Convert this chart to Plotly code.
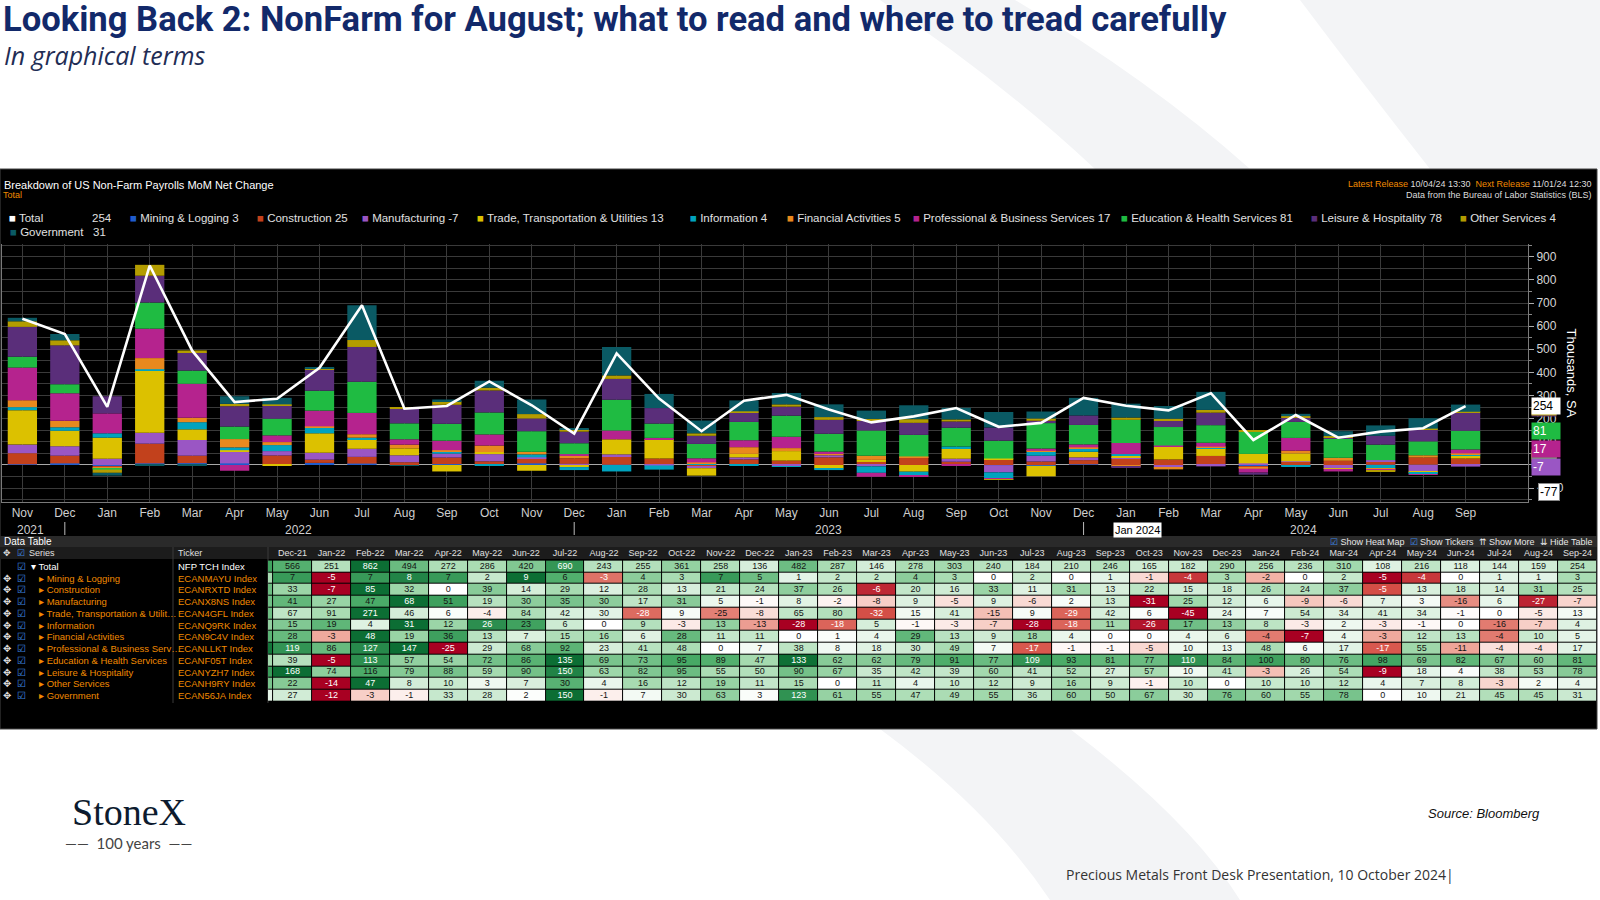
import plotly.graph_objects as go

# ---- data (thousands, MoM net change, SA) ----
months = ["Nov-21", "Dec-21", "Jan-22", "Feb-22", "Mar-22", "Apr-22", "May-22", "Jun-22", "Jul-22",
          "Aug-22", "Sep-22", "Oct-22", "Nov-22", "Dec-22", "Jan-23", "Feb-23", "Mar-23", "Apr-23",
          "May-23", "Jun-23", "Jul-23", "Aug-23", "Sep-23", "Oct-23", "Nov-23", "Dec-23", "Jan-24",
          "Feb-24", "Mar-24", "Apr-24", "May-24", "Jun-24", "Jul-24", "Aug-24", "Sep-24"]

total = [632, 566, 251, 862, 494, 272, 286, 420, 690, 243, 255, 361, 258, 136, 482, 287, 146, 278,
         303, 240, 184, 210, 246, 165, 182, 290, 256, 236, 310, 108, 216, 118, 144, 159, 254]
mining = [3, 7, -5, 7, 8, 7, 2, 9, 6, -3, 4, 3, 7, 5, 1, 2, 2, 4, 3, 0, 2, 0, 1, -1, -4, 3, -2, 0,
          2, -5, -4, 0, 1, 1, 3]
construction = [48, 33, -7, 85, 32, 0, 39, 14, 29, 12, 28, 13, 21, 24, 37, 26, -6, 20, 16, 33, 11,
                31, 13, 22, 15, 18, 26, 24, 37, -5, 13, 18, 14, 31, 25]
manufacturing = [37, 41, 27, 47, 68, 51, 19, 30, 35, 30, 17, 31, 5, -1, 8, -2, -8, 9, -5, 9, -6, 2,
                 13, -31, 25, 12, 6, -9, -6, 7, 3, -16, 6, -27, -7]
trade = [149, 67, 91, 271, 46, 6, -4, 84, 42, 30, -28, 9, -25, -8, 65, 80, -32, 15, 41, -15, 9, -29,
         42, 6, -45, 24, 7, 54, 34, 41, 34, -1, 0, -5, 13]
information = [13, 15, 19, 4, 31, 12, 26, 23, 6, 0, 9, -3, 13, -13, -28, -18, 5, -1, -3, -7, -28,
               -18, 11, -26, 17, 13, 8, -3, 2, -3, -1, 0, -16, -7, 4]
financial = [30, 28, -3, 48, 19, 36, 13, 7, 15, 16, 6, 28, 11, 11, 0, 1, 4, 29, 13, 9, 18, 4, 0, 0,
             4, 6, -4, -7, 4, -3, 12, 13, -4, 10, 5]
professional = [141, 119, 86, 127, 147, -25, 29, 68, 92, 23, 41, 48, 0, 7, 38, 8, 18, 30, 49, 7, -17,
                -1, -1, -5, 10, 13, 48, 6, 17, -17, 55, -11, -4, -4, 17]
education = [47, 39, -5, 113, 57, 54, 72, 86, 135, 69, 73, 95, 89, 47, 133, 62, 62, 79, 91, 77, 109,
             93, 81, 77, 110, 84, 100, 80, 76, 98, 69, 82, 67, 60, 81]
leisure = [129, 168, 74, 116, 79, 88, 59, 90, 150, 63, 82, 95, 55, 50, 90, 67, 35, 42, 39, 60, 41,
           52, 27, 57, 10, 41, -3, 26, 54, -9, 18, 4, 38, 53, 78]
other = [24, 22, -14, 47, 8, 10, 3, 7, 30, 4, 16, 12, 19, 11, 15, 0, 11, 4, 10, 12, 9, 16, 9, -1, 10,
         0, 10, 10, 12, 4, 7, 8, -3, 2, 4]
government = [15, 27, -12, -3, -1, 33, 28, 2, 150, -1, 7, 30, 63, 3, 123, 61, 55, 47, 49, 55, 36, 60,
              50, 67, 30, 76, 60, 55, 78, 0, 10, 21, 45, 45, 31]

sector_names = ["Mining & Logging", "Construction", "Manufacturing", "Trade, Transportation & Utilities",
                "Information", "Financial Activities", "Professional & Business Services",
                "Education & Health Services", "Leisure & Hospitality", "Other Services", "Government"]
table_names = ["Mining & Logging", "Construction", "Manufacturing", "Trade, Transportation & Utilit\u2026",
               "Information", "Financial Activities", "Professional & Business Serv\u2026",
               "Education & Health Services", "Leisure & Hospitality", "Other Services", "Government"]
tickers = ["NFP TCH Index", "ECANMAYU Index", "ECANRXTD Index", "ECANX8NS Index", "ECAN4GFL Index",
           "ECANQ9RK Index", "ECAN9C4V Index", "ECANLLKT Index", "ECANF05T Index", "ECANYZH7 Index",
           "ECANH9RY Index", "ECAN56JA Index"]
sector_colors = ["#1f5ccc", "#c2411c", "#9a56c4", "#dcc100", "#00a3be", "#e8891e", "#b5238e",
                 "#1fbb42", "#5a2e7a", "#b39c00", "#0a5a64"]
year_labels = ["2021", "2022", "2023", "2024"]
crosshair_value = -77
crosshair_date = "Jan 2024"

sectors = [mining, construction, manufacturing, trade, information, financial, professional,
           education, leisure, other, government]

W, H = 1600, 900


def px(x):
    return x / W


def py(y):
    return 1 - y / H


FONT = "Liberation Sans"
ORANGE = "#f08a00"
fig = go.Figure()

# stacked bars
for name, vals, col in zip(sector_names, sectors, sector_colors):
    fig.add_trace(go.Bar(x=months, y=vals, name=name, marker=dict(color=col, line=dict(width=0))))

fig.add_trace(go.Scatter(x=months, y=total, mode="lines", name="Total",
                         line=dict(color="white", width=2.6)))

# ---- heat map data table (row-wise scaling, red < 0 < green) ----
rows = [total] + sectors
row_keys = ["Total"] + sector_names
z = []
for r in rows:
    lo, hi = min(r), max(r)
    z.append([(v / hi if hi > 0 else 0) if v >= 0 else -v / lo for v in r])

heat_scale = [[0.0, "rgb(168,0,34)"], [0.15, "rgb(214,82,72)"], [0.3, "rgb(242,178,166)"],
              [0.5, "rgb(255,255,255)"], [0.675, "rgb(165,218,175)"], [0.85, "rgb(72,170,102)"],
              [1.0, "rgb(12,110,52)"]]

fig.add_trace(go.Heatmap(
    x=months, y=row_keys, z=z, colorscale=heat_scale, zmin=-1, zmax=1, showscale=False,
    xgap=1, ygap=1, xaxis="x2", yaxis="y2", hoverinfo="skip",
))

# cell values (the Nov-21 column is only a cut-off sliver, so no text there)
tx, ty, tt, tc = [], [], [], []
for key, r, zr in zip(row_keys, rows, z):
    for m, v, t in list(zip(months, r, zr))[1:]:
        tx.append(m)
        ty.append(key)
        tt.append(str(v))
        tc.append("white" if (t >= 0.8 or t <= -0.6) else "#141414")
fig.add_trace(go.Scatter(x=tx, y=ty, text=tt, mode="text", textposition="middle center",
                         textfont=dict(family=FONT, size=9, color=tc), xaxis="x2", yaxis="y2",
                         cliponaxis=True, hoverinfo="skip"))

# ---- layout ----
WM = "#f3f4f6"
shapes = [
    # faint logo watermark behind the slide
    dict(type="path", xref="paper", yref="paper", layer="below", fillcolor=WM, line=dict(width=0),
         path="M %f %f L %f %f Q %f %f %f %f L %f %f Q %f %f %f %f Z" % (
             px(880), py(0), px(1015), py(0), px(1150), py(80), px(1250), py(169), px(1095), py(169),
             px(1000), py(80), px(880), py(0))),
    dict(type="path", xref="paper", yref="paper", layer="below", fillcolor=WM, line=dict(width=0),
         path="M %f %f L %f %f L %f %f L %f %f Q %f %f %f %f Z" % (
             px(1300), py(0), px(1600), py(0), px(1600), py(169), px(1430), py(169),
             px(1360), py(80), px(1300), py(0))),
    dict(type="path", xref="paper", yref="paper", layer="below", fillcolor=WM, line=dict(width=0),
         path="M %f %f L %f %f Q %f %f %f %f L %f %f Q %f %f %f %f Z" % (
             px(880), py(729), px(1070), py(729), px(1190), py(820), px(1240), py(900), px(1050), py(900),
             px(990), py(810), px(880), py(729))),
    dict(type="rect", xref="paper", yref="paper", x0=0, x1=px(1597), y0=py(729), y1=py(169),
         fillcolor="black", line=dict(color="#444444", width=1), layer="below"),
    dict(type="rect", xref="paper", yref="paper", x0=0, x1=px(1597), y0=py(547), y1=py(536),
         fillcolor="#2a2a2a", line=dict(width=0), layer="below"),
    dict(type="rect", xref="paper", yref="paper", x0=0, x1=px(1597), y0=py(559), y1=py(547),
         fillcolor="#1c1c1c", line=dict(width=0), layer="below"),
]
for xline in [173, 268]:
    shapes.append(dict(type="line", xref="paper", yref="paper", x0=px(xline), x1=px(xline),
                       y0=py(703), y1=py(547), line=dict(color="#3a3a3a", width=1), layer="below"))
for sep in ["Dec-21", "Dec-22", "Dec-23"]:
    i = months.index(sep)
    shapes.append(dict(type="line", xref="x", yref="paper", x0=i, x1=i, y0=py(535), y1=py(522),
                       line=dict(color="#bbbbbb", width=1)))

ann = []
ann.append(dict(x=px(1), y=py(19), xref="paper", yref="paper", xanchor="left", yanchor="middle",
                showarrow=False, text="<b>Looking Back 2: NonFarm for August; what to read and where to tread carefully</b>",
                font=dict(family="Roboto", size=34.6, color="#12296a")))
ann.append(dict(x=px(2), y=py(55), xref="paper", yref="paper", xanchor="left", yanchor="middle",
                showarrow=False, text="<i>In graphical terms</i>",
                font=dict(family="Open Sans", size=25, color="#1f2d55")))

# panel header
ann.append(dict(x=px(2), y=py(185), xref="paper", yref="paper", xanchor="left", yanchor="middle",
                showarrow=False, text="Breakdown of US Non-Farm Payrolls MoM Net Change",
                font=dict(family=FONT, size=11, color="white")))
ann.append(dict(x=px(1), y=py(195), xref="paper", yref="paper", xanchor="left", yanchor="middle",
                showarrow=False, text="Total", font=dict(family=FONT, size=9, color=ORANGE)))
ann.append(dict(x=px(1594), y=py(184), xref="paper", yref="paper", xanchor="right", yanchor="middle",
                showarrow=False,
                text="<span style='color:%s'>Latest Release</span> 10/04/24 13:30  "
                     "<span style='color:%s'>Next Release</span> 11/01/24 12:30" % (ORANGE, ORANGE),
                font=dict(family=FONT, size=9, color="#dddddd")))
ann.append(dict(x=px(1594), y=py(195), xref="paper", yref="paper", xanchor="right", yanchor="middle",
                showarrow=False, text="Data from the Bureau of Labor Statistics (BLS)",
                font=dict(family=FONT, size=9, color="#dddddd")))

# legend
leg_x = [128, 255, 360, 475, 688, 785, 911, 1119, 1309, 1458, 8]
leg_y = [218] * 10 + [232]
ann.append(dict(x=px(7), y=py(218), xref="paper", yref="paper", xanchor="left", yanchor="middle",
                showarrow=False, text="<span style='color:white'>\u25a0</span> Total",
                font=dict(family=FONT, size=11.5, color="#e0e0e0")))
ann.append(dict(x=px(90), y=py(218), xref="paper", yref="paper", xanchor="left", yanchor="middle",
                showarrow=False, text=str(total[-1]), font=dict(family=FONT, size=11.5, color="#e0e0e0")))
for name, vals, col, lx, ly in zip(sector_names, sectors, sector_colors, leg_x, leg_y):
    gap = "\u00a0\u00a0" if name == "Government" else ""
    ann.append(dict(x=px(lx), y=py(ly), xref="paper", yref="paper", xanchor="left", yanchor="middle",
                    showarrow=False,
                    text="<span style='color:%s'>\u25a0</span> %s %s%d" % (col, name, gap, vals[-1]),
                    font=dict(family=FONT, size=11.5, color="#e0e0e0")))

# year labels under the month axis
year_pos = [0.19, 6.5, 18.98, 30.17]
for yl, xp in zip(year_labels, year_pos):
    ann.append(dict(x=xp, y=py(530), xref="x", yref="paper", xanchor="center", yanchor="middle",
                    showarrow=False, text=yl, font=dict(family=FONT, size=12, color="#cfcfcf")))
ann.append(dict(x=26.26, y=py(530), xref="x", yref="paper", xanchor="center", yanchor="middle",
                showarrow=False, text=crosshair_date, bgcolor="white", borderpad=1,
                font=dict(family=FONT, size=11, color="black")))

ann.append(dict(x=px(1580), y=(py(502) + py(244)) / 2, xref="paper", yref="paper", textangle=90,
                showarrow=False, text="Thousands, SA", font=dict(family=FONT, size=13, color="white")))

# last value tags at the top of each stacked segment
pos_cum, neg_cum, tops = 0, 0, []
for vals in sectors:
    v = vals[-1]
    if v >= 0:
        pos_cum += v
        tops.append(pos_cum)
    else:
        neg_cum += v
        tops.append(neg_cum)
tag_order = [8, 9, 0, 1, 3, 4, 5, 6, 7, 2]
for k in tag_order:
    show = k in (2, 6, 7)
    ann.append(dict(x=px(1531), y=tops[k], xref="paper", yref="y", xanchor="left", yanchor="middle",
                    showarrow=False, text=str(sectors[k][-1]) if show else "\u2007\u2007",
                    bgcolor=sector_colors[k], borderpad=1, width=26 if show else 22, align="left",
                    font=dict(family=FONT, size=12 if show else 4, color="white")))
ann.append(dict(x=px(1531), y=total[-1], xref="paper", yref="y", xanchor="left", yanchor="middle",
                showarrow=False, text=str(total[-1]), bgcolor="white", borderpad=1, width=26, align="left",
                font=dict(family=FONT, size=12, color="black")))
ann.append(dict(x=px(1538), y=crosshair_value, xref="paper", yref="y", xanchor="left", yanchor="top",
                showarrow=False, text=str(crosshair_value), bgcolor="white", borderpad=1,
                bordercolor="#888888", borderwidth=1, font=dict(family=FONT, size=12, color="black")))

# data table bar and column headers
ann.append(dict(x=px(2), y=py(541.5), xref="paper", yref="paper", xanchor="left", yanchor="middle",
                showarrow=False, text="Data Table", font=dict(family=FONT, size=10, color="white")))
ann.append(dict(x=px(1594), y=py(541.5), xref="paper", yref="paper", xanchor="right", yanchor="middle",
                showarrow=False,
                text="<span style='color:#3d86e0'>\u2611</span> Show Heat Map  "
                     "<span style='color:#3d86e0'>\u2611</span> Show Tickers  \u21c8 Show More  \u21ca Hide Table",
                font=dict(family=FONT, size=9, color="#e8e8e8")))
for hx, htxt, hcol in [(1, "\u2725", "#dddddd"), (15, "\u2611", "#3d86e0"), (27, "Series", "#e0e0e0"),
                       (176, "Ticker", "#e0e0e0")]:
    ann.append(dict(x=px(hx), y=py(553), xref="paper", yref="paper", xanchor="left", yanchor="middle",
                    showarrow=False, text=htxt, font=dict(family=FONT, size=9, color=hcol)))

# row labels
for i, key in enumerate(row_keys):
    is_total = i == 0
    label = "\u25be Total" if is_total else "\u25b8 " + table_names[i - 1]
    col = "white" if is_total else ORANGE
    if not is_total:
        ann.append(dict(x=px(1), y=key, xref="paper", yref="y2", xanchor="left", yanchor="middle",
                        showarrow=False, text="\u2725", font=dict(family=FONT, size=10, color="#dddddd")))
    ann.append(dict(x=px(15), y=key, xref="paper", yref="y2", xanchor="left", yanchor="middle",
                    showarrow=False, text="\u2611", font=dict(family=FONT, size=10, color="#3d86e0")))
    ann.append(dict(x=px(29 if is_total else 37), y=key, xref="paper", yref="y2", xanchor="left",
                    yanchor="middle", showarrow=False, text=label, font=dict(family=FONT, size=9.5, color=col)))
    ann.append(dict(x=px(176), y=key, xref="paper", yref="y2", xanchor="left", yanchor="middle",
                    showarrow=False, text=tickers[i], font=dict(family=FONT, size=9.5, color=col)))

# slide footer
ann.append(dict(x=px(70), y=py(812), xref="paper", yref="paper", xanchor="left", yanchor="middle",
                showarrow=False, text="StoneX", font=dict(family="Liberation Serif", size=38, color="#0d1b2e")))
ann.append(dict(x=px(128), y=py(843), xref="paper", yref="paper", xanchor="center", yanchor="middle",
                showarrow=False, text="\u2014\u2014  100 years  \u2014\u2014",
                font=dict(family="Lato", size=15, color="#444444")))
ann.append(dict(x=px(1426), y=py(813), xref="paper", yref="paper", xanchor="left", yanchor="middle",
                showarrow=False, text="<i>Source: Bloomberg</i>",
                font=dict(family="Liberation Sans", size=13, color="#111111")))
ann.append(dict(x=px(1064), y=py(874), xref="paper", yref="paper", xanchor="left", yanchor="middle",
                showarrow=False, text="Precious Metals Front Desk Presentation, 10 October 2024|",
                font=dict(family="Open Sans", size=14, color="#333333")))

# table column width 38.94 px -> first (Nov-21) column only shows a sliver
col_w = 38.94
tbl_left, tbl_right = 268, 1597
tbl_first = 0.5 - 5 / col_w

fig.update_layout(
    width=W, height=H, margin=dict(l=0, r=0, t=0, b=0),
    paper_bgcolor="white", plot_bgcolor="black",
    barmode="relative", bargap=0.31, showlegend=False,
    shapes=shapes, annotations=ann,
    xaxis=dict(domain=[px(2), px(1528)], type="category", range=[-0.48, 35.47],
               tickvals=months, ticktext=[m[:3] for m in months],
               tickfont=dict(family=FONT, size=12, color="#cfcfcf"),
               showgrid=True, gridcolor="#3a3a3a", gridwidth=1,
               showline=True, linecolor="#7a7a7a", linewidth=1, ticks="", fixedrange=True),
    yaxis=dict(domain=[py(502), py(244)], side="right", range=[-160, 955],
               tickvals=list(range(-100, 1000, 100)),
               tickfont=dict(family=FONT, size=12, color="#d6d6d6"),
               ticks="outside", ticklen=5, tickcolor="#aaaaaa",
               showgrid=True, gridcolor="#3a3a3a", gridwidth=1,
               minor=dict(tickvals=list(range(-150, 1000, 100)), showgrid=True, gridcolor="#3a3a3a",
                          ticks="outside", ticklen=3, tickcolor="#888888"),
               zeroline=True, zerolinecolor="#a8a8a8", zerolinewidth=1,
               showline=True, linecolor="#7a7a7a", mirror=True, fixedrange=True),
    xaxis2=dict(domain=[px(tbl_left), px(tbl_right)], anchor="y2", type="category", side="top",
                range=[tbl_first, tbl_first + (tbl_right - tbl_left) / col_w],
                tickvals=months[1:], ticktext=months[1:], ticks="", showgrid=False, showline=False,
                zeroline=False, tickfont=dict(family=FONT, size=9, color="#e0e0e0"), fixedrange=True),
    yaxis2=dict(domain=[py(703), py(559)], anchor="x2", type="category", autorange="reversed",
                showticklabels=False, showgrid=False, zeroline=False, fixedrange=True),
)

fig.write_html("out.html", post_script="document.body.style.margin='0';",
               config={"displayModeBar": False})
